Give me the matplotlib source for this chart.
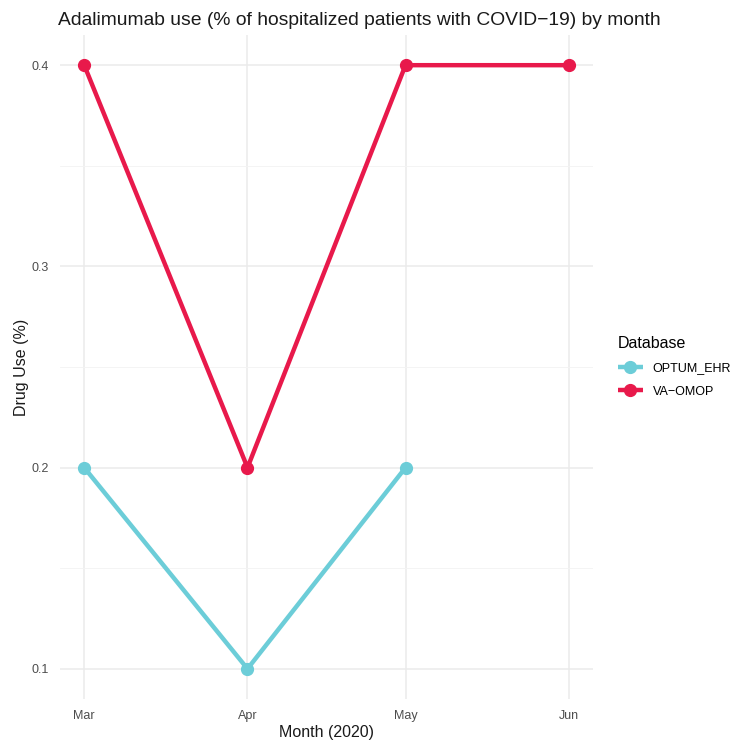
import matplotlib
matplotlib.use('Agg')
import matplotlib.pyplot as plt
import matplotlib.dates as mdates
import numpy as np
import datetime as dt

plt.rcParams['font.family'] = ['Liberation Sans', 'DejaVu Sans']

months = [dt.date(2020, 3, 1), dt.date(2020, 4, 1), dt.date(2020, 5, 1), dt.date(2020, 6, 1)]
optum_months = months[:3]
optum_vals = [0.2, 0.1, 0.2]
va_months = months
va_vals = [0.4, 0.2, 0.4, 0.4]
series = [("OPTUM_EHR", optum_months, optum_vals, '#6CCDD8'),
          ("VA\u2212OMOP", va_months, va_vals, '#E8194B')]

fig = plt.figure(figsize=(7.53, 7.44), dpi=100)
W, H = 753, 744
ax = fig.add_axes([60 / W, 45 / H, 533 / W, 664 / H])

for name, x, y, c in series:
    ax.plot(x, y, color=c, linewidth=3.2, marker='o', markersize=8.5,
            solid_capstyle='butt', label=name)

d0, d1 = mdates.date2num(months[0]), mdates.date2num(months[-1])
pad = (d1 - d0) * 0.05
ax.set_xlim(d0 - pad, d1 + pad)
ax.set_ylim(0.085, 0.415)

ax.set_xticks(months)
ax.set_xticklabels(['Mar', 'Apr', 'May', 'Jun'])
ax.set_yticks([0.1, 0.2, 0.3, 0.4])
ax.set_yticks([0.15, 0.25, 0.35], minor=True)
ax.grid(which='major', color='#EBEBEB', linewidth=1.1)
ax.grid(which='minor', axis='y', color='#F3F3F3', linewidth=0.6)
ax.set_axisbelow(True)
for s in ax.spines.values():
    s.set_visible(False)
ax.tick_params(which='both', length=0, labelsize=9, colors='#4D4D4D', pad=8)

ax.set_xlabel('Month (2020)', fontsize=11.5, color='#1A1A1A', labelpad=2)
ax.set_ylabel('Drug Use (%)', fontsize=11.5, color='#1A1A1A', labelpad=2)
ax.set_title('Adalimumab use (% of hospitalized patients with COVID\u221219) by month',
             fontsize=13.9, color='#1A1A1A', loc='left', x=-0.003, pad=7)

leg = ax.legend(loc='center left', bbox_to_anchor=(1.025, 0.5), frameon=False,
                title='Database', fontsize=9, title_fontsize=11.5,
                handlelength=2.0, labelspacing=0.9, alignment='left')

fig.savefig('out.png', dpi=100)
